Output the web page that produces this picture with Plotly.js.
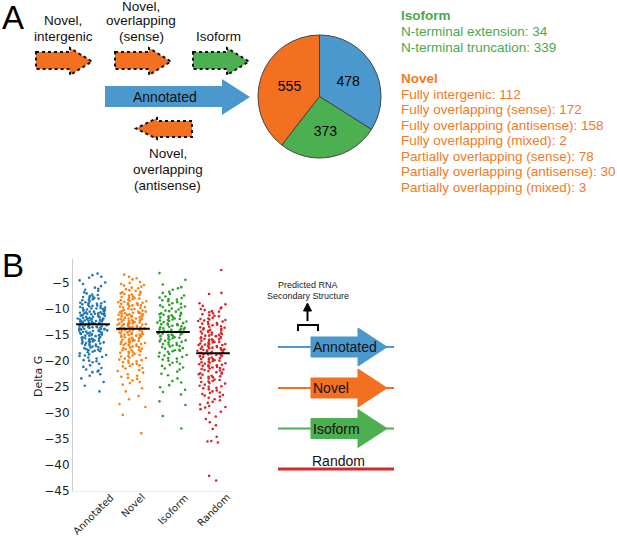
<!DOCTYPE html>
<html><head><meta charset="utf-8">
<script src="https://cdn.plot.ly/plotly-3.0.1.min.js"></script>
<style>html,body{margin:0;padding:0;background:#fff}#chart{width:617px;height:538px}</style>
</head><body><div id="chart"></div>
<script>
const W = 617, H = 538;

// ---- Panel A data ----
const pieLabels = ['Annotated', 'Isoform', 'Novel'];
const pieValues = [478, 373, 555];
const isoformTypes = ['N-terminal extension', 'N-terminal truncation'];
const isoformCounts = [34, 339];
const novelTypes = ['Fully intergenic', 'Fully overlapping (sense)', 'Fully overlapping (antisense)',
  'Fully overlapping (mixed)', 'Partially overlapping (sense)', 'Partially overlapping (antisense)',
  'Partially overlapping (mixed)'];
const novelCounts = [112, 172, 158, 2, 78, 30, 3];

// ---- Panel B data (Delta G) ----
const groups = ['Annotated', 'Novel', 'Isoform', 'Random'];
const annotatedDG = [-12.4,-9.8,-15.1,-13.7,-7.9,-17.2,-11.3,-14.6,-10.2,-19.4,-12.9,-8.6,-16.3,-13.1,-21.7,-11.8,-14.2,-6.4,-18.1,-12.2,
-10.7,-15.8,-13.4,-9.2,-17.9,-11.1,-14.9,-4.1,-16.7,-12.7,-20.3,-10.4,-13.9,-8.1,-15.4,-11.6,-18.8,-12.1,-9.5,-14.4,
-22.6,-13.2,-7.3,-16.1,-11.9,-10.9,-19.9,-14.1,-12.6,-5.7,-17.5,-13.6,-9.9,-15.6,-11.4,-24.8,-12.3,-8.9,-16.9,-14.7,
-10.1,-18.4,-13.0,-6.9,-15.2,-11.7,-20.9,-12.8,-9.4,-14.3,-17.0,-10.6,-13.5,-3.6,-16.5,-12.0,-8.4,-19.1,-11.2,-14.8,
-22.1,-13.3,-7.6,-15.9,-10.3,-12.5,-18.2,-9.0,-16.0,-13.8,-11.0,-21.2,-14.0,-6.2,-17.7,-12.9,-9.7,-15.3,-10.8,-25.9,
-13.1,-8.2,-16.4,-11.5,-14.5,-19.6,-12.4,-7.1,-15.0,-10.0,-17.3,-13.7,-4.6,-11.9,-18.6,-14.2,-9.3,-16.2,-12.2,-23.4,
-10.5,-15.7,-13.4,-8.7,-20.1,-11.3,-14.9,-5.3,-17.8,-12.6,-9.6,-16.8,-13.9,-10.9,-21.9,-12.0,-7.7,-15.5,-11.8,-18.9,
-14.6,-9.1,-13.2,-6.6,-16.6,-10.2,-19.3,-12.7,-8.0,-15.1,-11.4,-22.9,-13.6,-10.7,-17.4,-14.1,-3.9,-12.3,-9.9,-20.6,
-15.8,-11.0,-13.0,-7.4,-18.0,-12.5,-16.3,-10.4,-24.1,-14.4,
-11.2,-13.9,-8.8,-16.0,-12.1,-14.7,-10.0,-17.1,-6.0,-13.4,-19.0,-11.6,-15.2,-9.0,-12.8,-21.4,-14.3,-7.8,-16.7,-10.6,
-13.1,-18.3,-11.9,-15.5,-5.0,-12.4,-14.0,-9.5,-17.6,-10.9,-20.0,-13.6,-8.3,-15.9,-12.0,-3.3,-14.9,-11.0,-22.2,-16.4];
const novelDG = [-13.5,-8.2,-17.9,-11.4,-20.6,-6.1,-15.3,-12.1,-9.7,-18.7,-14.2,-4.4,-16.8,-10.6,-22.3,-13.0,-7.5,-19.4,-11.9,-15.9,
-8.9,-24.1,-12.7,-16.2,-5.3,-14.8,-10.1,-20.1,-13.3,-7.0,-17.4,-11.2,-23.5,-15.0,-9.3,-12.4,-18.2,-6.6,-14.5,-21.4,
-10.9,-16.5,-3.5,-13.8,-8.6,-19.8,-12.0,-15.6,-9.0,-22.9,-11.7,-17.1,-6.9,-14.0,-25.3,-10.3,-16.0,-12.9,-7.8,-18.9,
-13.6,-5.8,-20.9,-11.1,-15.2,-9.5,-17.7,-14.3,-26.8,-8.3,-12.5,-19.1,-10.8,-16.7,-4.9,-13.1,-21.8,-11.5,-14.9,-7.2,
-18.4,-12.2,-15.8,-9.9,-23.8,-13.7,-6.3,-17.0,-10.4,-20.4,-14.6,-8.0,-16.3,-12.6,-28.3,-11.0,-19.6,-13.4,-5.1,-15.4,
-9.2,-22.0,-12.8,-17.5,-7.4,-14.1,-10.7,-18.0,-13.2,-30.4,-8.8,-16.1,-11.8,-20.3,-6.0,-15.1,-12.3,-24.6,-9.6,-14.7,
-17.8,-10.2,-13.9,-7.7,-19.2,-11.3,-16.6,-3.9,-12.9,-21.1,-15.5,-8.5,-18.5,-14.4,-10.5,-27.4,-13.0,-6.8,-16.9,-11.6,
-20.7,-9.1,-15.7,-12.1,-23.1,-14.0,-7.9,-17.3,-10.0,-19.9,-13.5,-5.6,-16.4,-11.4,-22.6,-8.4,-14.8,-12.6,-18.3,-9.8,
-33.9,-15.0,-10.9,-20.0,-13.3,-7.1,-17.6,-12.0,-25.9,-14.3,-9.4,-16.2,-4.2,-11.9,-19.5,-15.3,-8.1,-21.5,-13.8,-10.6,
-28.9,-12.4,-6.5,-18.6,-14.9,-11.1,-16.8,-9.0,-24.3,-13.6,
-12.2,-16.1,-9.4,-14.6,-19.0,-11.5,-7.3,-17.2,-13.1,-21.0,-10.8,-15.4,-5.5,-12.9,-18.0,-14.1,-8.7,-23.3,-16.9,-11.2];
const isoformDG = [-14.2,-9.6,-18.3,-12.1,-21.0,-7.2,-15.9,-11.4,-19.5,-13.3,-6.1,-16.8,-10.5,-23.4,-14.8,-8.4,-17.6,-12.7,-20.2,-15.4,
-9.0,-25.1,-13.6,-11.0,-18.9,-5.4,-16.2,-12.3,-21.7,-14.0,-8.0,-17.2,-10.9,-22.5,-15.1,-13.0,-19.8,-7.7,-14.6,-11.7,
-24.2,-16.5,-9.3,-18.1,-12.9,-3.2,-15.7,-20.6,-13.8,-10.2,-17.9,-6.8,-14.3,-26.0,-11.9,-19.0,-15.0,-8.8,-16.9,-12.5,
-22.1,-13.4,-10.6,-18.5,-7.0,-15.6,-27.8,-11.2,-20.0,-14.9,-9.8,-17.0,-13.1,-23.9,-16.1,-8.2,-12.0,-19.3,-14.5,-6.4,
-18.7,-11.5,-21.3,-15.3,-10.0,-16.6,-13.9,-25.6,-12.6,-9.1,-17.4,-14.1,-20.8,-7.5,-15.8,-11.8,-28.5,-13.5,-18.0,-10.4,
-16.3,-12.2,-22.8,-14.7,-8.6,-19.6,-15.2,-5.9,-13.2,-17.7,-11.1,-24.7,-14.4,-9.4,-16.0,-12.8,-21.5,-10.8,-18.2,-15.5,
-7.9,-13.7,-30.6,-11.6,-17.1,-14.0,-20.4,-9.7,-16.4,-12.4,-26.5,-15.0,-8.3,-19.2,-13.0,-4.5,-17.3,-11.3,-33.0,-14.8];
const randomDG = [-18.2,-12.4,-23.1,-15.9,-27.4,-10.6,-20.3,-14.1,-25.2,-17.0,-11.3,-21.8,-16.4,-29.3,-19.1,-13.0,-24.0,-9.8,-18.8,-22.6,
-15.2,-26.7,-12.9,-20.9,-17.6,-31.2,-14.6,-19.7,-10.1,-23.7,-16.8,-21.2,-13.5,-28.1,-18.5,-11.8,-25.9,-15.6,-20.0,-17.3,
-7.2,-22.3,-14.9,-19.4,-26.1,-12.1,-17.9,-24.6,-16.1,-30.0,-13.8,-21.5,-18.0,-10.9,-23.4,-15.4,-27.9,-19.9,-12.6,-20.6,
-16.6,-32.4,-14.3,-22.0,-17.7,-9.5,-25.5,-18.9,-13.2,-21.0,-15.8,-28.7,-11.5,-19.2,-24.3,-16.9,-20.4,-14.0,-26.4,-17.1,
-35.5,-12.8,-22.9,-18.3,-10.3,-23.9,-15.1,-19.6,-29.8,-16.3,-13.7,-21.7,-17.5,-25.0,-11.1,-20.8,-14.8,-27.1,-18.6,-9.2,
-22.5,-16.0,-24.8,-12.3,-19.0,-31.8,-15.5,-21.3,-17.8,-13.4,-26.9,-18.1,-10.7,-23.2,-16.7,-20.1,-14.4,-28.4,-19.8,-12.0,
-2.6,-17.4,-24.4,-15.0,-21.9,-34.6,-18.7,-13.1,-22.2,-16.2,-25.7,-11.9,-20.5,-17.2,-29.0,-14.7,-19.3,-10.0,-23.6,-18.4,
-42.1,-15.7,-21.1,-16.5,-27.6,-12.5,-19.5,-24.9,-17.0,-30.7,-14.2,-22.7,-18.8,-11.4,-26.2,-15.3,-20.2,-13.9,-35.4,-17.9,
-7.0,-23.0,-16.4,-19.1,-25.3,-12.2,-21.6,-18.0,-28.9,-15.9,-33.1,-20.7,-14.5,-24.1,-17.6,-10.5,-22.4,-19.7,-43.0,-16.8,
-35.7,-13.6,-20.9,-26.6,-18.5,-9.0,-23.3,-15.2,-21.4,-17.3];
const meanDG = [-13.0, -13.9, -14.5, -18.6];
const yTicks = [-5, -10, -15, -20, -25, -30, -35, -40, -45];

// ---- styles ----
const ARIAL = 'Liberation Sans, Arial, sans-serif';
const DEJAVU = 'DejaVu Sans, sans-serif';
const pieColors = ['#4a98cd', '#4cb050', '#f37021'];
const stripColors = ['#1f77b4', '#ff7f0e', '#2ca02c', '#d62728'];
const greenText = '#4aa84e', orangeText = '#f27a22';
const schemBlue = '#4a98cd', schemOrange = '#f37021', schemGreen = '#4cb050', schemRed = '#d9262a';

const px = x => x / W;
const py = y => 1 - y / H;
const pth = pts => 'M' + pts.map(p => px(p[0]).toFixed(5) + ',' + py(p[1]).toFixed(5)).join(' L') + ' Z';
const openPth = pts => 'M' + pts.map(p => px(p[0]).toFixed(5) + ',' + py(p[1]).toFixed(5)).join(' L');

function arrowPath(x0, bodyTop, bodyBot, headX, headTop, headBot, tipX) {
  const mid = (headTop + headBot) / 2;
  return pth([[x0, bodyTop], [headX, bodyTop], [headX, headTop], [tipX, mid], [headX, headBot], [headX, bodyBot], [x0, bodyBot]]);
}

const shapes = [];
const dotted = {color: '#111', width: 2, dash: 'dot'};
// Panel A arrows
[[36, '#f37021'], [115, '#f37021'], [193, '#4cb050']].forEach(([x, c]) => {
  shapes.push({type: 'path', xref: 'paper', yref: 'paper', path: arrowPath(x, 52, 69, x + 34, 48, 75, x + 56),
    fillcolor: c, line: dotted, layer: 'above'});
});
shapes.push({type: 'path', xref: 'paper', yref: 'paper', path: arrowPath(105, 86, 107, 222, 79, 115, 250),
  fillcolor: '#4a98cd', line: {width: 0}, layer: 'above'});
shapes.push({type: 'path', xref: 'paper', yref: 'paper', path: arrowPath(192, 121, 137, 157, 118, 139, 136),
  fillcolor: '#f37021', line: dotted, layer: 'above'});

// Panel B schematic
[[347, schemBlue], [388, schemOrange], [428.5, schemGreen]].forEach(([y, c]) => {
  shapes.push({type: 'line', xref: 'paper', yref: 'paper', x0: px(278), x1: px(394), y0: py(y), y1: py(y), line: {color: c, width: 2}});
  shapes.push({type: 'path', xref: 'paper', yref: 'paper', path: arrowPath(311, y - 10, y + 10, 358, y - 19, y + 19, 387),
    fillcolor: c, line: {color: c, width: 1}, layer: 'above'});
});
shapes.push({type: 'line', xref: 'paper', yref: 'paper', x0: px(278), x1: px(394), y0: py(469), y1: py(469), line: {color: schemRed, width: 3}});
shapes.push({type: 'path', xref: 'paper', yref: 'paper', path: openPth([[298, 331], [298, 325], [318, 325], [318, 331]]), line: {color: '#000', width: 2}});
shapes.push({type: 'line', xref: 'paper', yref: 'paper', x0: px(307.5), x1: px(307.5), y0: py(321), y1: py(309), line: {color: '#000', width: 2}});
shapes.push({type: 'path', xref: 'paper', yref: 'paper', path: pth([[303.5, 311], [307.5, 303], [311.5, 311]]), fillcolor: '#000', line: {color: '#000', width: 1}});

const ann = [];
function T(text, x, y, opt) {
  ann.push(Object.assign({text: text, x: px(x), y: py(y), xref: 'paper', yref: 'paper', showarrow: false,
    xanchor: 'center', yanchor: 'middle', font: {family: ARIAL, size: 14, color: '#111'}}, opt || {}));
}
const small = {font: {family: ARIAL, size: 13.5, color: '#111'}};
T('A', 12.5, 17, {font: {family: ARIAL, size: 33, color: '#000'}});
T('B', 12.5, 265, {font: {family: ARIAL, size: 33, color: '#000'}});
T('Novel,', 63, 21, small); T('intergenic', 63, 36, small);
T('Novel,', 141, 7, small); T('overlapping', 141, 21, small); T('(sense)', 141, 37, small);
T('Isoform', 218, 36, small);
T('Annotated', 165, 97);
T('Novel,', 168, 154, small); T('overlapping', 168, 169.5, small); T('(antisense)', 168, 185.5, small);

// right legend text
const LS = 15.5;
T('<b>Isoform</b>', 399, 16, {xanchor: 'left', font: {family: ARIAL, size: 13.5, color: greenText}});
isoformTypes.forEach((t, i) => T(t + ': ' + isoformCounts[i], 399, 32 + i * 16, {xanchor: 'left', font: {family: ARIAL, size: 13.5, color: greenText}}));
T('<b>Novel</b>', 399, 79, {xanchor: 'left', font: {family: ARIAL, size: 13.5, color: orangeText}});
novelTypes.forEach((t, i) => T(t + ': ' + novelCounts[i], 399, 94 + i * LS, {xanchor: 'left', font: {family: ARIAL, size: 13.5, color: orangeText}}));

// schematic texts
T('Predicted RNA', 308, 285, {font: {family: ARIAL, size: 9, color: '#222'}});
T('Secondary Structure', 308, 296, {font: {family: ARIAL, size: 9, color: '#222'}});
T('Annotated', 311, 347, {xanchor: 'left'});
T('Novel', 311, 388, {xanchor: 'left'});
T('Isoform', 311, 428.5, {xanchor: 'left'});
T('Random', 338, 461);

// strip y title and rotated category labels
T('Delta G', 38, 377, {textangle: -90, font: {family: DEJAVU, size: 11, color: '#222'}});
groups.forEach((g, i) => ann.push({text: g, x: i, y: py(489), xref: 'x', yref: 'paper', showarrow: false,
  xanchor: 'center', yanchor: 'top', textangle: -45, font: {family: DEJAVU, size: 10, color: '#222'}}));

const series = [annotatedDG, novelDG, isoformDG, randomDG];
const traces = [];
traces.push({type: 'pie', labels: pieLabels, values: pieValues, sort: false, direction: 'clockwise', rotation: 0,
  marker: {colors: pieColors, line: {color: '#444', width: 1}}, textinfo: 'value', textposition: 'inside',
  insidetextorientation: 'horizontal', textfont: {family: ARIAL, size: 14, color: '#000'},
  domain: {x: [px(258), px(381)], y: [py(158), py(35)]}, showlegend: false, hoverinfo: 'label+value'});
// Strip: each group's values are drawn in value bands so the library's jitter spreads evenly (like a strip plot)
const bandEdges = [0, -6, -10, -14, -18, -22, -27, -50];
series.forEach((s, i) => {
  for (let b = 0; b < bandEdges.length - 1; b++) {
    const vals = s.filter(v => v <= bandEdges[b] && v > bandEdges[b + 1]);
    if (!vals.length) continue;
    traces.push({type: 'box', y: vals, x0: i, name: groups[i], boxpoints: 'all', jitter: 1, pointpos: 0,
      width: 0.8, fillcolor: 'rgba(0,0,0,0)', line: {width: 0, color: 'rgba(0,0,0,0)'},
      marker: {color: stripColors[i], size: 2.6}, showlegend: false, xaxis: 'x', yaxis: 'y', hoverinfo: 'y'});
  }
});
meanDG.forEach((m, i) => traces.push({type: 'scatter', mode: 'lines', x: [i - 0.42, i + 0.42], y: [m, m],
  line: {color: '#000', width: 2}, showlegend: false, hoverinfo: 'skip'}));

const layout = {
  width: W, height: H, margin: {l: 0, r: 0, t: 0, b: 0}, paper_bgcolor: '#fff', plot_bgcolor: 'rgba(0,0,0,0)',
  showlegend: false, boxmode: 'overlay',
  xaxis: {domain: [px(73), px(233)], range: [-0.5, 3.5], showticklabels: false, showgrid: false, zeroline: false,
    showline: true, linecolor: '#eeeeee', ticks: '', fixedrange: true},
  yaxis: {domain: [py(491), py(259)], range: [-45, -0.5], tickvals: yTicks, showgrid: false, zeroline: false,
    showline: true, linecolor: '#cccccc', linewidth: 1, ticks: '', tickfont: {family: DEJAVU, size: 12, color: '#222'}, fixedrange: true},
  shapes: shapes, annotations: ann
};
Plotly.newPlot('chart', traces, layout, {displayModeBar: false, staticPlot: true});
</script></body></html>
